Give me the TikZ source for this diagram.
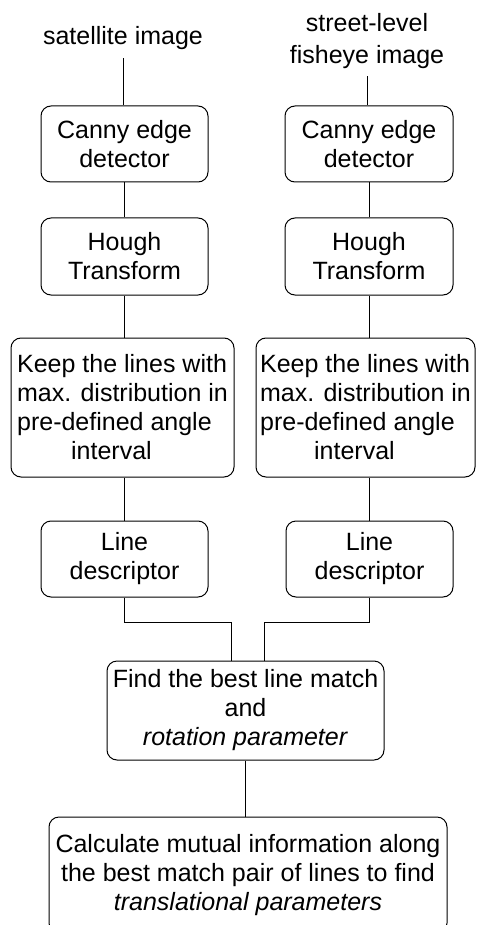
\documentclass[tikz,border=0pt]{standalone}
\usepackage{fontspec}
\setmainfont{Liberation Sans}
\begin{document}
\begin{tikzpicture}[x=1pt,y=-1pt,
  box/.style={draw,line width=1pt,rounded corners=10pt,align=center,inner sep=0pt,
    font=\fontsize{25}{29}\selectfont},
  lbl/.style={inner sep=0pt,outer sep=8pt,align=center,font=\fontsize{25}{31.5}\selectfont},
  conn/.style={line width=1pt}]
\useasboundingbox (0,0) rectangle (476,925);
% input labels
\node[lbl,anchor=base] (satL) at (123,45) {satellite image};
\node[lbl] (streetL) at (367,41) {street-level\\fisheye image};
% left column
\node[box,minimum width=167pt,minimum height=76pt] (cannyL) at (124.5,144) {Canny edge\\detector};
\node[box,minimum width=167pt,minimum height=77pt] (houghL) at (124.5,256.5) {Hough\\Transform};
\node[box,align=left,minimum width=223pt,minimum height=139pt] (keepL) at (122.5,407.5)
  {Keep the lines with\\max. distribution in\\pre-defined angle\\\hspace*{54pt}interval};
\node[box,minimum width=167pt,minimum height=76pt] (lineL) at (124.5,559) {Line\\descriptor};
% right column
\node[box,minimum width=168pt,minimum height=76pt] (cannyR) at (369,144) {Canny edge\\detector};
\node[box,minimum width=168pt,minimum height=77pt] (houghR) at (369,256.5) {Hough\\Transform};
\node[box,align=left,minimum width=219pt,minimum height=139pt] (keepR) at (365.5,407.5)
  {Keep the lines with\\max. distribution in\\pre-defined angle\\\hspace*{54pt}interval};
\node[box,minimum width=167pt,minimum height=76pt] (lineR) at (369.5,559) {Line\\descriptor};
% merge
\node[box,minimum width=277pt,minimum height=99pt] (find) at (245.5,710.5)
  {Find the best line match\\and\hspace*{6pt}\\\textit{rotation parameter}};
\node[box,minimum width=398pt,minimum height=116pt] (calc) at (248,875)
  {Calculate mutual information along\\the best match pair of lines to find\\\textit{translational parameters}};
% connectors
\draw[conn] (satL.south) -- (satL.south |- cannyL.north);
\draw[conn] (cannyL.south) -- (houghL.north);
\draw[conn] (houghL.south) -- (houghL.south |- keepL.north);
\draw[conn] (lineL.north |- keepL.south) -- (lineL.north);
\draw[conn] (streetL.south) -- (streetL.south |- cannyR.north);
\draw[conn] (cannyR.south) -- (houghR.north);
\draw[conn] (houghR.south) -- (houghR.south |- keepR.north);
\draw[conn] (houghR.south |- keepR.south) -- (houghR.south |- lineR.north);
\draw[conn] (lineL.south) -- ++(0,25) -| ([xshift=-14.5pt]find.north);
\draw[conn] (houghR.south |- lineR.south) -- ++(0,25) -| ([xshift=18.5pt]find.north);
\draw[conn] (find.south) -- (find.south |- calc.north);
\end{tikzpicture}
\end{document}
